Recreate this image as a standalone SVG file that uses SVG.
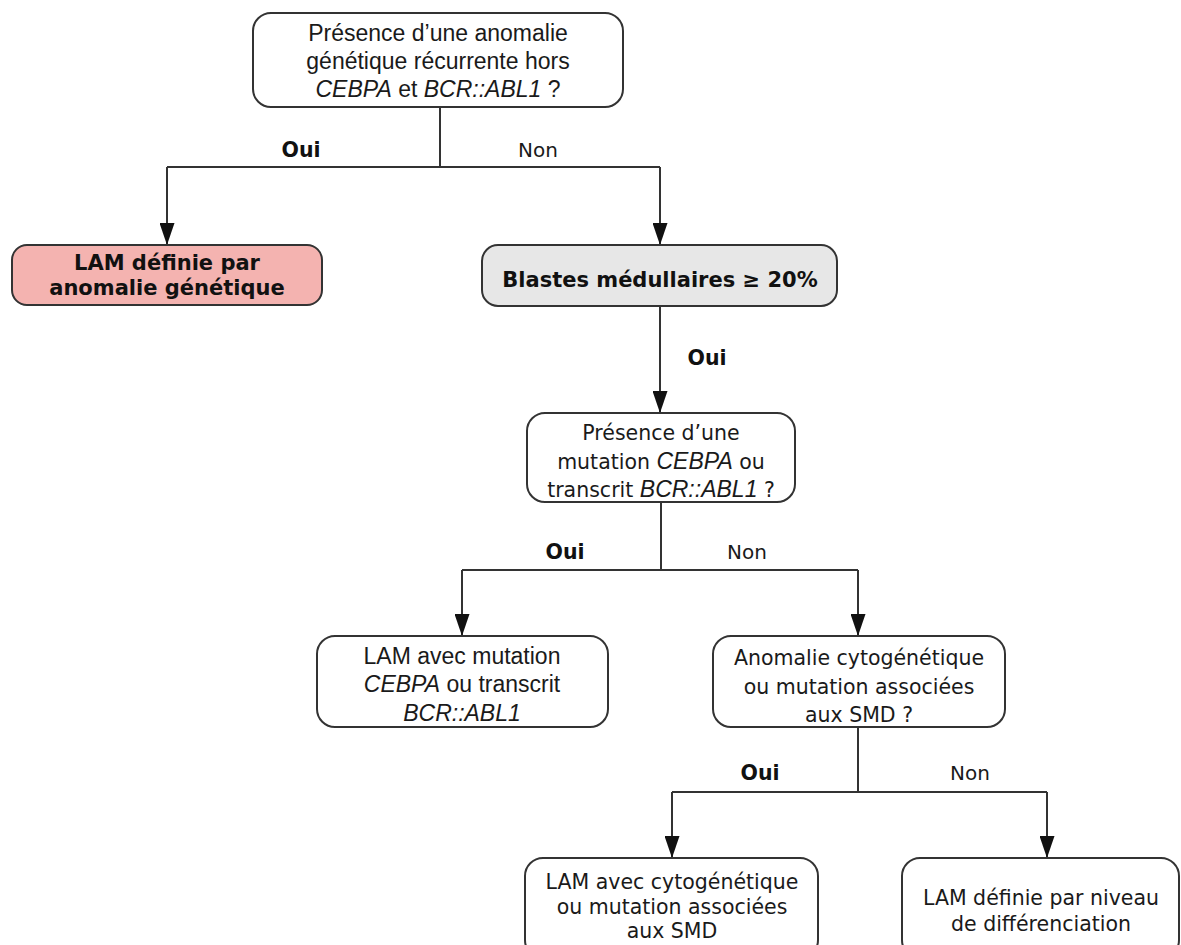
<svg xmlns="http://www.w3.org/2000/svg" width="1181" height="945" viewBox="0 0 1181 945">
<defs>
<marker id="arr" viewBox="0 0 22 15" refX="22" refY="7.5" markerWidth="22" markerHeight="15" markerUnits="userSpaceOnUse" orient="auto">
<path d="M0,0 L22,7.5 L0,15 z" fill="#111"/>
</marker>
<style>
.box{fill:#fff;stroke:#333;stroke-width:2}
.pink{fill:#f4b3b0;stroke:#333;stroke-width:2}
.gray{fill:#e7e7e7;stroke:#333;stroke-width:2}
.line{fill:none;stroke:#333;stroke-width:2}
.arrow{fill:none;stroke:#333;stroke-width:2;marker-end:url(#arr)}
.h{font-family:"Liberation Sans",Arial,sans-serif;font-size:23px;fill:#1a1a1a;text-anchor:middle}
.t{font-family:"DejaVu Sans",Verdana,sans-serif;font-size:20.5px;fill:#1a1a1a;text-anchor:middle}
.b{font-family:"DejaVu Sans",Verdana,sans-serif;font-size:21px;font-weight:bold;fill:#111;text-anchor:middle}
.lb{font-family:"DejaVu Sans",Verdana,sans-serif;font-size:20.5px;font-weight:bold;fill:#111;text-anchor:middle}
.ln{font-family:"DejaVu Sans",Verdana,sans-serif;font-size:20px;fill:#1a1a1a;text-anchor:middle}
.i{font-family:"Liberation Sans",Arial,sans-serif;font-style:italic}
</style>
</defs>
<rect width="1181" height="945" fill="#fff"/>

<g id="connectors">
<path class="line" d="M440,107 V167 M167,167 H660"/>
<path class="arrow" d="M167,167 V245"/>
<path class="arrow" d="M660,167 V245"/>
<path class="arrow" d="M660,306 V413"/>
<path class="line" d="M661,502 V570 M462,570 H858"/>
<path class="arrow" d="M462,570 V636"/>
<path class="arrow" d="M858,570 V636"/>
<path class="line" d="M858,727 V792 M672,792 H1047"/>
<path class="arrow" d="M672,792 V858"/>
<path class="arrow" d="M1047,792 V858"/>
</g>

<g id="labels">
<text class="lb" x="301" y="157">Oui</text>
<text class="ln" x="538" y="157">Non</text>
<text class="lb" x="707" y="365">Oui</text>
<text class="lb" x="565" y="559">Oui</text>
<text class="ln" x="747" y="559">Non</text>
<text class="lb" x="760" y="780">Oui</text>
<text class="ln" x="970" y="780">Non</text>
</g>

<g id="n1">
<rect class="box" x="253" y="13" width="370" height="94" rx="18"/>
<text class="h" x="438" y="41">Présence d’une anomalie</text>
<text class="h" x="438" y="69">génétique récurrente hors</text>
<text class="h" x="438" y="97"><tspan class="i">CEBPA</tspan> et <tspan class="i">BCR::ABL1</tspan> ?</text>
</g>

<g id="n2">
<rect class="pink" x="12" y="245" width="310" height="60" rx="15"/>
<text class="b" x="167" y="270">LAM définie par</text>
<text class="b" x="167" y="295">anomalie génétique</text>
</g>

<g id="n3">
<rect class="gray" x="482" y="245" width="355" height="61" rx="16"/>
<text class="b" x="660" y="287">Blastes médullaires ≥ 20%</text>
</g>

<g id="n4">
<rect class="box" x="527" y="413" width="268" height="89" rx="18"/>
<text class="t" x="661" y="440">Présence d’une</text>
<text class="t" x="661" y="469">mutation <tspan class="i" font-size="23">CEBPA</tspan> ou</text>
<text class="t" x="661" y="497">transcrit <tspan class="i" font-size="23">BCR::ABL1</tspan> ?</text>
</g>

<g id="n5">
<rect class="box" x="317" y="636" width="291" height="91" rx="18"/>
<text class="h" x="462" y="664">LAM avec mutation</text>
<text class="h" x="462" y="692"><tspan class="i">CEBPA</tspan> ou transcrit</text>
<text class="h" x="462" y="721"><tspan class="i">BCR::ABL1</tspan></text>
</g>

<g id="n6">
<rect class="box" x="713" y="636" width="292" height="91" rx="18"/>
<text class="t" x="859" y="665">Anomalie cytogénétique</text>
<text class="t" x="859" y="694">ou mutation associées</text>
<text class="t" x="859" y="722">aux SMD ?</text>
</g>

<g id="n7">
<rect class="box" x="525" y="858" width="293" height="100" rx="18"/>
<text class="t" x="672" y="889">LAM avec cytogénétique</text>
<text class="t" x="672" y="914">ou mutation associées</text>
<text class="t" x="672" y="938">aux SMD</text>
</g>

<g id="n8">
<rect class="box" x="902" y="858" width="277" height="100" rx="18"/>
<text class="t" x="1041" y="905">LAM définie par niveau</text>
<text class="t" x="1041" y="931">de différenciation</text>
</g>
</svg>
